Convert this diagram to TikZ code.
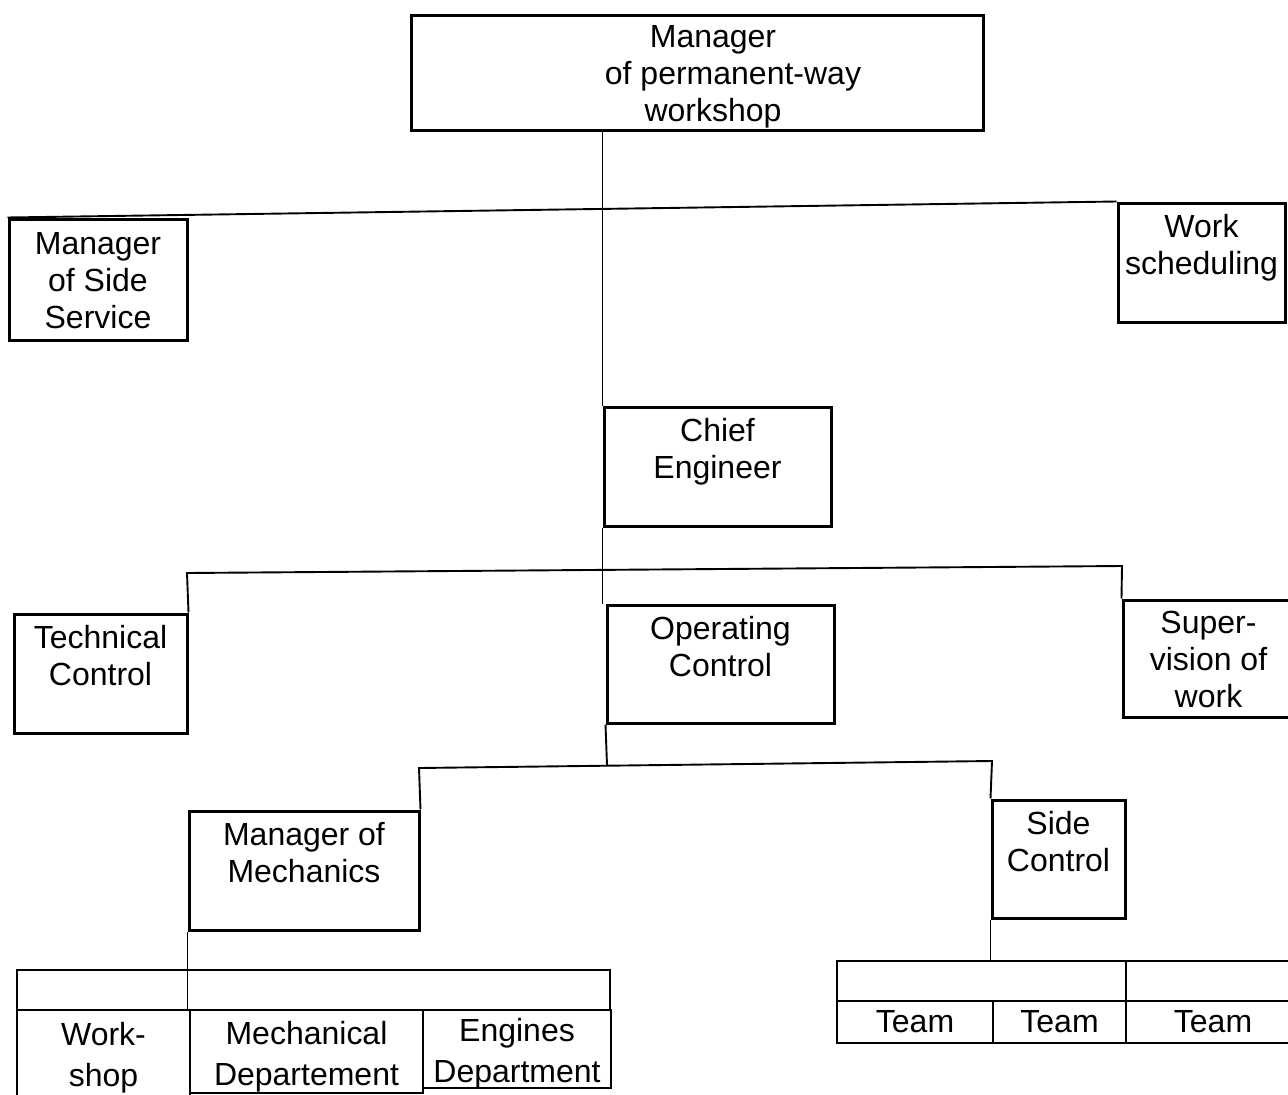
\documentclass[tikz,border=0pt]{standalone}
\usepackage{fontspec}
\setmainfont{Liberation Sans}
\newcommand\bxfont{\fontsize{32}{37}\selectfont}
\newcommand\cellfont{\fontsize{32}{41}\selectfont}
\newcommand\topstrut{\rule{0pt}{24.8pt}}
\newcommand\celltop{\rule{0pt}{26.4pt}}
\newcommand\nilline{\rule{0pt}{0pt}}
% #1 style, #2 name, #3 x1, #4 y1, #5 x2, #6 y2, #7 text
\newcommand\orgnode[7]{%
  \pgfmathsetmacro\orgcx{(#3+#5)/2}%
  \pgfmathsetmacro\orgcy{(#4+#6)/2}%
  \pgfmathsetmacro\orgww{#5-#3}%
  \pgfmathsetmacro\orghh{#6-#4}%
  \node[#1, minimum width=\orgww pt, minimum height=\orghh pt] (#2) at (\orgcx,\orgcy) {#7};}
\begin{document}
\begin{tikzpicture}[x=1pt,y=-1pt,
  orgbox/.style={draw, line width=3pt, inner sep=0pt, align=center, font=\bxfont},
  cell/.style={draw, line width=2.6pt, inner sep=0pt, align=center, font=\cellfont},
  link/.style={line width=1.9pt}]
\useasboundingbox (0,0) rectangle (1288,1095);

% boxes
\orgnode{orgbox}{top}{411}{15}{983}{130}
  {\topstrut\hspace*{32pt}Manager\\\hspace*{72pt}of permanent-way\\\hspace*{32pt}\smash{workshop}}
\orgnode{orgbox}{ss}{9}{219}{187}{340}{\topstrut Manager\\of Side\\\smash{Service}}
\orgnode{orgbox}{ws}{1118}{203}{1285}{322}{\topstrut Work\\scheduling\\\nilline}
\orgnode{orgbox}{chief}{604}{407}{831}{526}{\topstrut Chief\\Engineer\\\nilline}
\orgnode{orgbox}{tc}{14}{614}{187}{733}{\topstrut Technical\\Control\\\nilline}
\orgnode{orgbox}{oc}{607}{605}{834}{723}{\topstrut Operating\\Control\\\nilline}
\orgnode{orgbox}{sv}{1123}{600}{1294}{717}{\topstrut Super-\\vision of\\\smash{work}}
\orgnode{orgbox}{mm}{189}{811}{419}{930}{\topstrut Manager of\\Mechanics\\\nilline}
\orgnode{orgbox}{sc}{992}{800}{1125}{918}{\topstrut Side\\Control\\\nilline}

% mechanics table
\orgnode{cell}{mtop}{17}{970}{610}{1010}{}
\orgnode{cell}{wshop}{17}{1010}{190}{1105}{\strut Work-\\shop\strut}
\orgnode{cell}{mech}{190}{1010}{423}{1093}{\celltop Mechanical\\\smash{Departement}}
\orgnode{cell}{eng}{423}{1010}{611}{1088}{\celltop Engines\\\smash{Department}}

% teams table
\orgnode{cell}{ttopa}{837}{961}{1126}{1001}{}
\orgnode{cell}{ttopb}{1126}{961}{1300}{1001}{}
\orgnode{cell}{teama}{837}{1001}{993}{1043}{Team}
\orgnode{cell}{teamb}{993}{1001}{1126}{1043}{Team}
\orgnode{cell}{teamc}{1126}{1001}{1300}{1043}{Team}

% junctions
\coordinate (L2a) at (187,573);
\coordinate (L2b) at (1122,566);
\coordinate (L3a) at (419,768);
\coordinate (L3b) at (992,761);
\coordinate (L3m) at (607,765);

% connectors
\draw[link] (chief.north west |- top.south) -- (chief.north west);
\draw[link] (ss.north west) -- (ws.north west);
\draw[link] (chief.south west) -- (chief.south west |- oc.north);
\draw[link] (tc.north east) -- (L2a) -- (L2b) -- (sv.north west);
\draw[link] (oc.south west) -- (L3m);
\draw[link] (mm.north east) -- (L3a) -- (L3b) -- (sc.north west);
\draw[link] (mm.south west) -- (mm.south west |- mech.north);
\draw[link] (sc.south west) -- (sc.south west |- ttopa.north);
\end{tikzpicture}
\end{document}
